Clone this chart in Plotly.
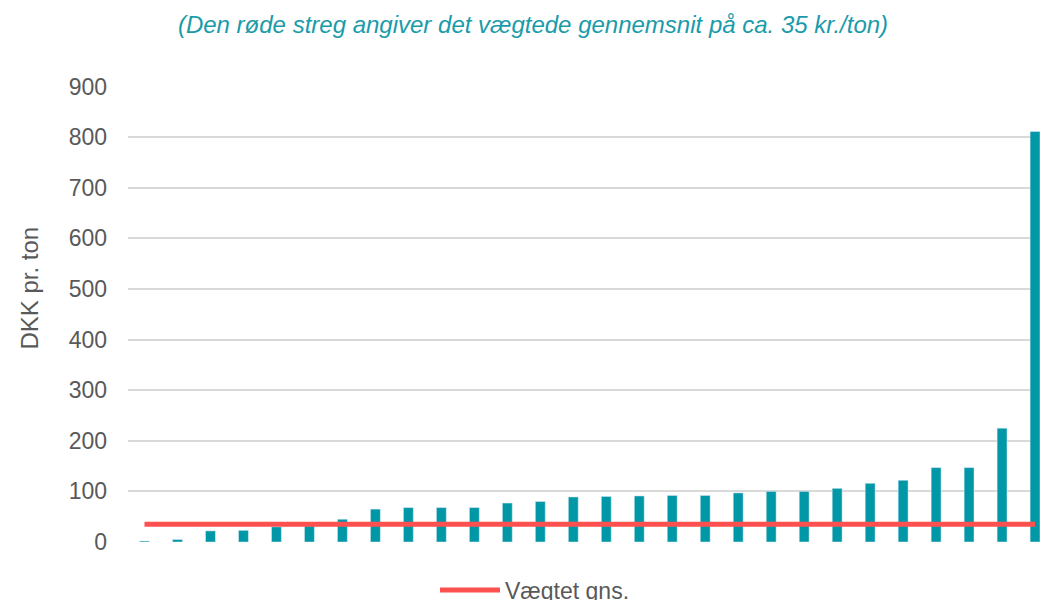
import plotly.graph_objects as go

categories = [f"Anlæg {i}" for i in range(1, 29)]
values = [2, 5, 22, 23, 30, 32, 45, 65, 68, 68, 68, 77, 80, 89,
          90, 91, 92, 92, 97, 100, 100, 106, 116, 122, 147, 147, 225, 811]
weighted_avg = 35
y_ticks = [0, 100, 200, 300, 400, 500, 600, 700, 800, 900]

title_text = "(Den røde streg angiver det vægtede gennemsnit på ca. 35 kr./ton)"
y_title = "DKK pr. ton"
legend_name = "Vægtet gns."

FONT = "Liberation Sans, Arial, sans-serif"
GREY = "#595959"

W, H = 1040, 600
L, T, B = 127.5, 86, 58
PW, PH = W - L, H - T - B

fig = go.Figure()
fig.add_trace(go.Bar(
    x=categories, y=values, marker_color="#0097A7", width=0.3,
    showlegend=False, hoverinfo="x+y",
))
fig.add_trace(go.Scatter(
    x=[categories[0], categories[-1]], y=[weighted_avg, weighted_avg],
    mode="lines", line=dict(color="#FF5050", width=5), name=legend_name,
))

fig.update_layout(
    width=W, height=H,
    margin=dict(l=L, r=0, t=T, b=B, autoexpand=False),
    paper_bgcolor="white", plot_bgcolor="white",
    font=dict(family=FONT, color=GREY, size=23),
    title=dict(text=title_text, x=533 / W, xanchor="center", xref="container",
               y=1 - 25 / H, yanchor="middle", yref="container",
               font=dict(family=FONT, size=24, color="#1A9BAA", style="italic")),
    showlegend=True,
    legend=dict(orientation="h", xref="container", yref="container",
                x=535 / W, xanchor="center", y=1 - 590 / H, yanchor="middle",
                itemwidth=60,
                font=dict(size=23, color=GREY), bgcolor="rgba(0,0,0,0)"),
)
fig.update_xaxes(type="category", range=[-0.5, 27.15], showticklabels=False,
                 showgrid=False, zeroline=False, showline=False, ticks="")
fig.update_yaxes(range=[0, 901], tickvals=y_ticks, showgrid=True,
                 gridcolor="#D9D9D9", gridwidth=2, zeroline=False, showline=False,
                 ticks="", ticklabelstandoff=20,
                 tickfont=dict(size=23, color=GREY))
fig.add_annotation(text=y_title, textangle=-90, xref="paper", yref="paper",
                   x=-(L - 13) / PW, xanchor="left", y=(H - B - 288.5) / PH, yanchor="middle",
                   showarrow=False, font=dict(size=24, color=GREY))

fig.write_html(
    "out.html",
    config={"displayModeBar": False},
    post_script="document.body.style.margin='0';document.body.style.overflow='hidden';",
)
